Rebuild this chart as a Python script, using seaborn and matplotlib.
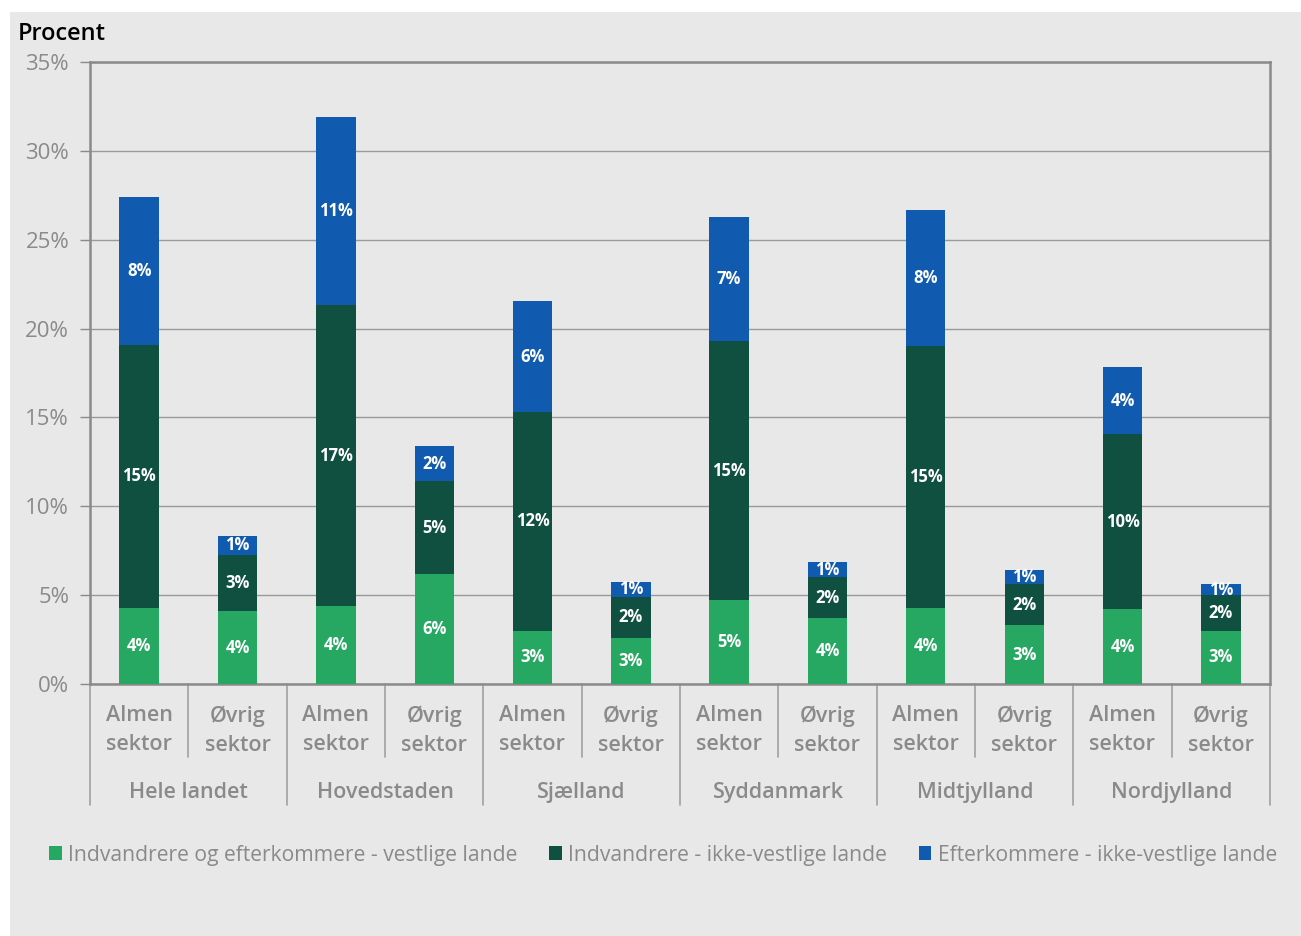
import numpy as np
import pandas as pd
import seaborn as sns
import matplotlib.pyplot as plt
from matplotlib.patches import Rectangle, Patch
from matplotlib.transforms import blended_transform_factory

# Data (percent)
regions = ["Hele landet", "Hovedstaden", "Sjælland", "Syddanmark", "Midtjylland", "Nordjylland"]
sectors = ["Almen\nsektor", "Øvrig\nsektor"]
vestlige = [4.3, 4.1, 4.4, 6.2, 3.0, 2.6, 4.7, 3.7, 4.3, 3.3, 4.2, 3.0]
ikke_vestlige_indv = [14.8, 3.15, 16.9, 5.2, 12.3, 2.3, 14.6, 2.3, 14.7, 2.3, 9.85, 2.0]
ikke_vestlige_efterk = [8.3, 1.1, 10.6, 2.0, 6.25, 0.85, 7.0, 0.85, 7.7, 0.8, 3.8, 0.6]
series_names = ["Indvandrere og efterkommere - vestlige lande",
                "Indvandrere - ikke-vestlige lande",
                "Efterkommere - ikke-vestlige lande"]
colors = ["#27A862", "#0F5040", "#105BAF"]
yticks = [0, 5, 10, 15, 20, 25, 30, 35]

bars = [f"{r}|{s}" for r in regions for s in sectors]
df = pd.DataFrame({"bar": bars, "v1": vestlige, "v2": ikke_vestlige_indv, "v3": ikke_vestlige_efterk})

sns.set_theme(style="white")
plt.rcParams["font.family"] = ["Open Sans", "DejaVu Sans"]
grey = "#8a8a8a"
bg = "#E8E8E8"

fig = plt.figure(figsize=(13.01, 9.36), dpi=100)
fig.patch.set_facecolor("white")
fig.patches.append(Rectangle((10 / 1301, 0), 1, 1 - 12 / 936, transform=fig.transFigure,
                             facecolor=bg, edgecolor="none", zorder=-10))
ax = fig.add_axes([90 / 1301, 1 - 684 / 936, 1180 / 1301, 622 / 936])
ax.set_facecolor(bg)

# stacked bars, one seaborn call per series
bottom = np.zeros(len(df))
for col, c in zip(["v1", "v2", "v3"], colors):
    sns.barplot(data=df, x="bar", y=col, color=c, width=0.4, bottom=bottom,
                errorbar=None, saturation=1, ax=ax, zorder=3,
                edgecolor="none", linewidth=0)
    cont = ax.containers[-1]
    ax.bar_label(cont, labels=[f"{round(v)}%" for v in df[col]], label_type="center",
                 color="white", fontsize=12, fontweight="bold")
    bottom = bottom + df[col].values

ax.set_xlim(-0.5, len(df) - 0.5)
ax.set_ylim(0, 35)
ax.set_yticks(yticks)
ax.set_yticklabels([f"{t}%" for t in yticks], color=grey, fontsize=16, fontweight="medium")
ax.yaxis.grid(True, color="#9a9a9a", linewidth=1)
ax.set_axisbelow(True)
ax.tick_params(axis="y", left=True, length=7, width=1, color=grey, pad=8)
ax.set_xticks([])
ax.set_xlabel("")
ax.set_ylabel("")
for sp in ax.spines.values():
    sp.set_visible(True)
    sp.set_color(grey)
    sp.set_linewidth(1.8)

# Two-level category axis
tr = blended_transform_factory(ax.transData, ax.transAxes)
for i, b in enumerate(bars):
    ax.text(i, -0.0745, b.split("|")[1], transform=tr, ha="center", va="center",
            color=grey, fontsize=15.5, fontweight="semibold", linespacing=1.5)
for j, r in enumerate(regions):
    ax.text(2 * j + 0.5, -0.174, r, transform=tr, ha="center", va="center",
            color=grey, fontsize=15.5, fontweight="semibold")
    ax.plot([2 * j + 0.5] * 2, [0, -0.117], transform=tr, color="#a0a0a0", lw=1.2, clip_on=False)
for k in range(len(regions) + 1):
    ax.plot([2 * k - 0.5] * 2, [0, -0.195], transform=tr, color="#a0a0a0", lw=1.2, clip_on=False)

fig.text(18 / 1301, 1 - 34 / 936, "Procent", ha="left", va="center", fontsize=17,
         fontweight="semibold", color="black")

handles = [Patch(facecolor=c, edgecolor="none") for c in colors]
leg = fig.legend(handles, series_names, loc="center", bbox_to_anchor=(663 / 1301, 1 - 855 / 936),
                 ncol=3, frameon=False, fontsize=15.2, handlelength=0.6, handleheight=0.6,
                 handletextpad=0.3, columnspacing=1.5)
for t in leg.get_texts():
    t.set_color(grey)

fig.savefig("out.png", dpi=100, facecolor=fig.get_facecolor())
